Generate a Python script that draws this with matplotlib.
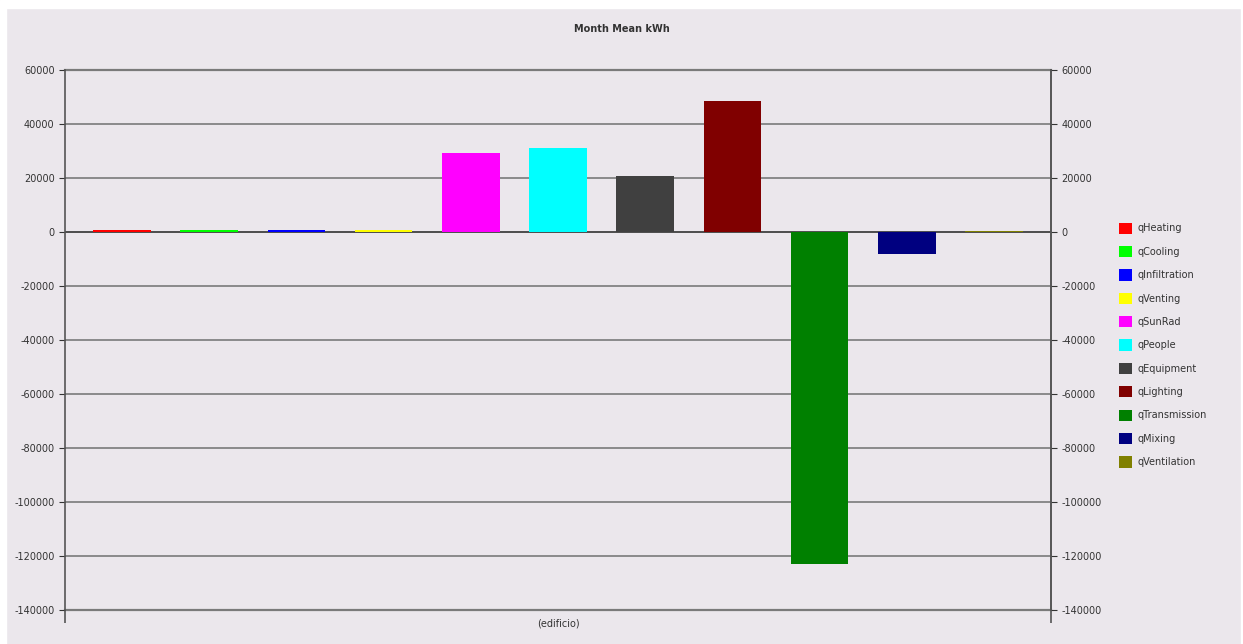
import matplotlib.pyplot as plt
import matplotlib.patches as mpatches
import numpy as np

# data
series = ['qHeating', 'qCooling', 'qInfiltration', 'qVenting', 'qSunRad', 'qPeople',
          'qEquipment', 'qLighting', 'qTransmission', 'qMixing', 'qVentilation']
values = [600, 600, 900, 600, 29300, 31200, 20800, 48500, -123000, -8200, 400]
colors = ['#ff0000', '#00ff00', '#0000ff', '#ffff00', '#ff00ff', '#00ffff',
          '#404040', '#800000', '#008000', '#000080', '#808000']
category = '(edificio)'
yticks = list(range(-140000, 60001, 20000))

bg = '#ebe7ec'
fig = plt.figure(figsize=(12.43, 6.44), dpi=100, facecolor=bg)
# white margin strips at top, left and right, as in the screenshot
fig.patches.append(mpatches.Rectangle((0, 1 - 8 / 644), 1, 8 / 644, transform=fig.transFigure,
                                      color='white', zorder=0))
fig.patches.append(mpatches.Rectangle((0, 0), 6 / 1243, 1, transform=fig.transFigure,
                                      color='white', zorder=0))
fig.patches.append(mpatches.Rectangle((1 - 2 / 1243, 0), 2 / 1243, 1, transform=fig.transFigure,
                                      color='white', zorder=0))
ax = fig.add_axes([0.0523, 0.0528, 0.7932, 0.8385], facecolor=bg)

n = len(series)
x = np.arange(n)
for i in range(n):
    ax.bar(x[i], values[i], width=0.66, color=colors[i], label=series[i], zorder=3)

ax.set_xlim(-0.654, n - 1 + 0.654)
ax.set_ylim(-140000, 60000)
ax.set_yticks(yticks)
ax.set_yticklabels([str(v) for v in yticks])
ax.yaxis.grid(True, color='#7a7a7a', linewidth=1.2, zorder=1)
for edge in ax.get_ylim():
    ax.axhline(edge, color='#7a7a7a', linewidth=1.6, zorder=1, clip_on=False)
ax.axhline(0, color='#444444', linewidth=1.2, zorder=2)
ax.set_xticks([(n - 1) / 2])
ax.set_xticklabels([category])
ax.set_xticks(list(ax.get_xlim()), minor=True)
ax.tick_params(axis='x', which='major', length=0, labelsize=7, colors='#333333', pad=6)
ax.tick_params(axis='x', which='minor', direction='out', length=9, width=1.2, color='#555555')
ax.tick_params(axis='y', direction='out', length=4, labelsize=7, colors='#333333',
               width=0.8)
for s in ['top', 'bottom']:
    ax.spines[s].set_visible(False)
for s in ['left', 'right']:
    ax.spines[s].set_color('#555555')
    ax.spines[s].set_linewidth(1.2)

ax2 = ax.twinx()
ax2.set_ylim(ax.get_ylim())
ax2.set_yticks(yticks)
ax2.set_yticklabels([str(v) for v in yticks])
ax2.tick_params(axis='y', direction='out', length=4, labelsize=7, colors='#333333',
                width=0.8)
for s in ['top', 'bottom', 'left']:
    ax2.spines[s].set_visible(False)
ax2.spines['right'].set_color('#555555')
ax2.spines['right'].set_linewidth(1.2)

fig.text(0.5, 0.955, 'Month Mean kWh', ha='center', va='center', fontsize=7,
         fontweight='bold', color='#333333')

handles, labels = ax.get_legend_handles_labels()
fig.legend(handles, labels, loc='upper left', bbox_to_anchor=(0.893, 0.668),
           frameon=False, fontsize=7, handlelength=1.4, handleheight=1.4,
           handletextpad=0.5, labelspacing=1.25, labelcolor='#333333')

fig.savefig('out.png', dpi=100, facecolor=bg)
